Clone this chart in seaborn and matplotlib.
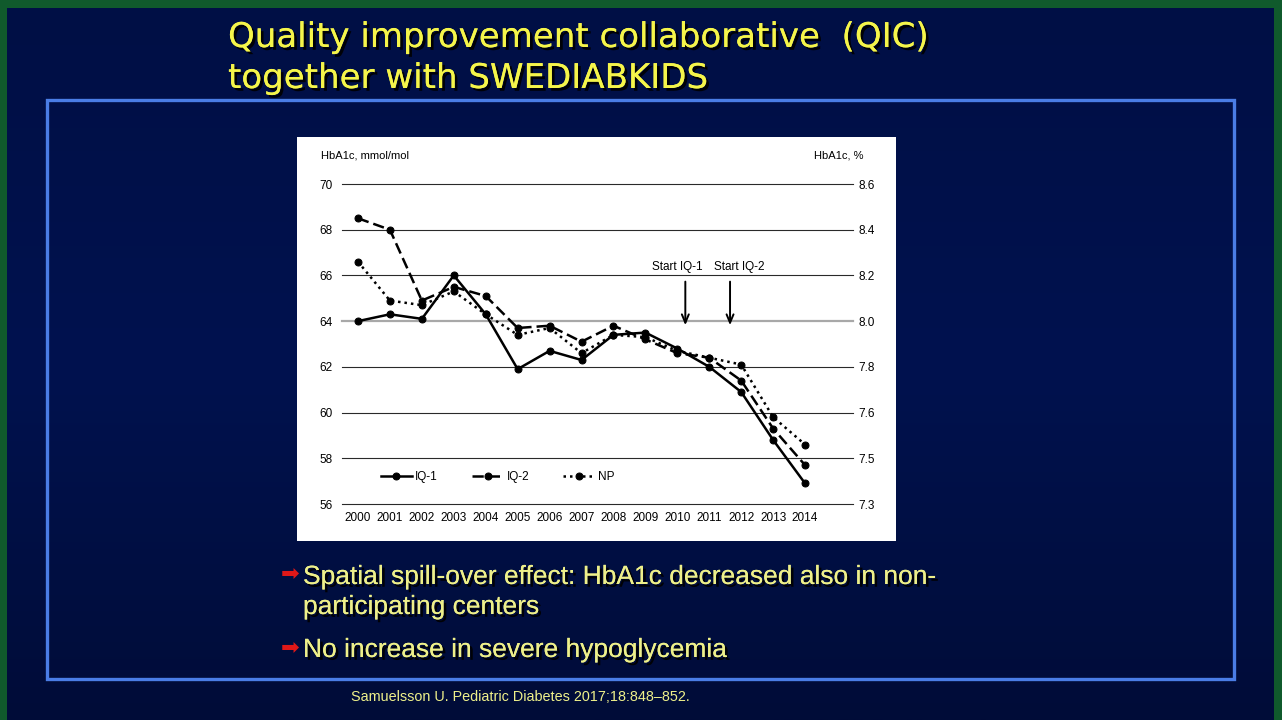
import numpy as np
import pandas as pd
import seaborn as sns
import matplotlib
matplotlib.use('Agg')
import matplotlib.pyplot as plt
from matplotlib.patches import Rectangle
from matplotlib.colors import LinearSegmentedColormap
import matplotlib.patheffects as pe

# data (HbA1c, mmol/mol)
years = list(range(2000, 2015))
iq1 = [64.0, 64.3, 64.1, 66.0, 64.3, 61.9, 62.7, 62.3, 63.4, 63.5, 62.8, 62.0, 60.9, 58.8, 56.9]
iq2 = [68.5, 68.0, 64.9, 65.5, 65.1, 63.7, 63.8, 63.1, 63.8, 63.2, 62.6, 62.4, 61.4, 59.3, 57.7]
np_ = [66.6, 64.9, 64.7, 65.3, 64.3, 63.4, 63.7, 62.6, 63.4, 63.3, 62.7, 62.4, 62.1, 59.8, 58.6]
groups = ['IQ-1', 'IQ-2', 'NP']
left_ticks = [56, 58, 60, 62, 64, 66, 68, 70]
right_labels = ['7.3', '7.5', '7.6', '7.8', '8.0', '8.2', '8.4', '8.6']
arrow_years = [2010.25, 2011.65]
arrow_labels = ['Start IQ-1', 'Start IQ-2']
label_years = [2010.0, 2011.95]

df = pd.DataFrame({
    'year': years * 3,
    'hba1c': iq1 + iq2 + np_,
    'group': [g for g in groups for _ in years],
})

W, H = 1282, 720
fig = plt.figure(figsize=(W / 100, H / 100), dpi=100, facecolor='#105a2c')

# slide background
bg = fig.add_axes([0, 0, 1, 1])
bg.set_xlim(0, W)
bg.set_ylim(H, 0)
bg.axis('off')
navy = LinearSegmentedColormap.from_list('navy', ['#000f45', '#00124f', '#000c38'])
grad = np.linspace(0, 1, 256).reshape(-1, 1)
bg.imshow(grad, cmap=navy, aspect='auto', extent=(7, 1274, H, 8), zorder=0)
bg.add_patch(Rectangle((47, 100), 1187, 579, fill=False, edgecolor='#4a7de6', lw=2.4, zorder=1))
bg.add_patch(Rectangle((297, 137), 599, 404, facecolor='white', edgecolor='none', zorder=1))

shadow = [pe.withSimplePatchShadow(offset=(2, -2), shadow_rgbFace='black', alpha=0.9), pe.Normal()]
bg.text(228, 47, 'Quality improvement collaborative  (QIC)', fontsize=24.5, color='#f5f54a',
        family='DejaVu Sans', va='baseline', ha='left', path_effects=shadow, zorder=2)
bg.text(228, 88, 'together with SWEDIABKIDS', fontsize=24.5, color='#f5f54a',
        family='DejaVu Sans', va='baseline', ha='left', path_effects=shadow, zorder=2)

txt_col = '#eef08a'
for yb in [574, 648]:
    bg.text(290, yb, '\u27a1', fontsize=16, color='#e01818', family='DejaVu Sans',
            ha='center', va='center', zorder=2)
bg.text(303, 584, 'Spatial spill-over effect: HbA1c decreased also in non-', fontsize=19,
        color=txt_col, family='Liberation Sans', va='baseline', path_effects=shadow, zorder=2)
bg.text(303, 614, 'participating centers', fontsize=19,
        color=txt_col, family='Liberation Sans', va='baseline', path_effects=shadow, zorder=2)
bg.text(303, 657, 'No increase in severe hypoglycemia', fontsize=19,
        color=txt_col, family='Liberation Sans', va='baseline', path_effects=shadow, zorder=2)
bg.text(351, 697, 'Samuelsson U. Pediatric Diabetes 2017;18:848\u2013852.', fontsize=10.4,
        color=txt_col, family='Liberation Sans', va='center', zorder=2)

# chart
ax = fig.add_axes([342 / W, (H - 504) / H, 511 / W, 320 / H])
ax.set_facecolor('none')
sns.lineplot(data=df, x='year', y='hba1c', style='group', color='black',
             markers={'IQ-1': 'o', 'IQ-2': 'o', 'NP': 'o'},
             dashes={'IQ-1': '', 'IQ-2': (4.5, 2), 'NP': (1, 1.6)},
             linewidth=1.8, markersize=5, markeredgecolor='black', ax=ax)
ax.set_xlim(1999.5, 2015.5)
ax.set_ylim(56, 70)
ax.set_xticks(years)
ax.set_yticks(left_ticks)
ax.set_xlabel('')
ax.set_ylabel('')
for s in ax.spines.values():
    s.set_visible(False)
ax.tick_params(axis='both', length=0, labelsize=8.5)
ax.tick_params(axis='y', pad=7)
ax.tick_params(axis='x', pad=6)
for lab in ax.get_xticklabels() + ax.get_yticklabels():
    lab.set_family('Liberation Sans')
ax.grid(axis='y', color='#2a2a2a', lw=0.8)
ax.grid(axis='x', visible=False)
ax.set_axisbelow(True)
for gl in ax.get_ygridlines():
    gl.set_clip_on(False)
ax.get_ygridlines()[left_ticks.index(64)].set_color('#a8a8a8')
ax.get_ygridlines()[left_ticks.index(64)].set_linewidth(1.6)

ax2 = ax.twinx()
ax2.set_ylim(56, 70)
ax2.set_yticks(left_ticks)
ax2.set_yticklabels(right_labels, family='Liberation Sans')
ax2.tick_params(axis='y', length=0, labelsize=8.5, pad=4)
for s in ax2.spines.values():
    s.set_visible(False)

for xa, xl, lab in zip(arrow_years, label_years, arrow_labels):
    ax.annotate('', xy=(xa, 63.7), xytext=(xa, 65.85),
                arrowprops=dict(arrowstyle='->,head_length=0.6,head_width=0.25', color='black', lw=1.4))
    ax.text(xl, 66.35, lab, fontsize=8.5, family='Liberation Sans', ha='center', va='center')

sns.move_legend(ax, loc='center left', bbox_to_anchor=(0.0763, 0.084), ncol=3, frameon=False,
                title=None, fontsize=8.5, handlelength=2.6, handletextpad=0.3, columnspacing=2.9,
                borderpad=0, borderaxespad=0)
for t in ax.get_legend().get_texts():
    t.set_family('Liberation Sans')

fig.text(321 / W, 1 - 156 / H, 'HbA1c, mmol/mol', fontsize=8, family='Liberation Sans', va='center')
fig.text(814 / W, 1 - 156 / H, 'HbA1c, %', fontsize=8, family='Liberation Sans', va='center')

fig.savefig('out.png', dpi=100, facecolor=fig.get_facecolor())
